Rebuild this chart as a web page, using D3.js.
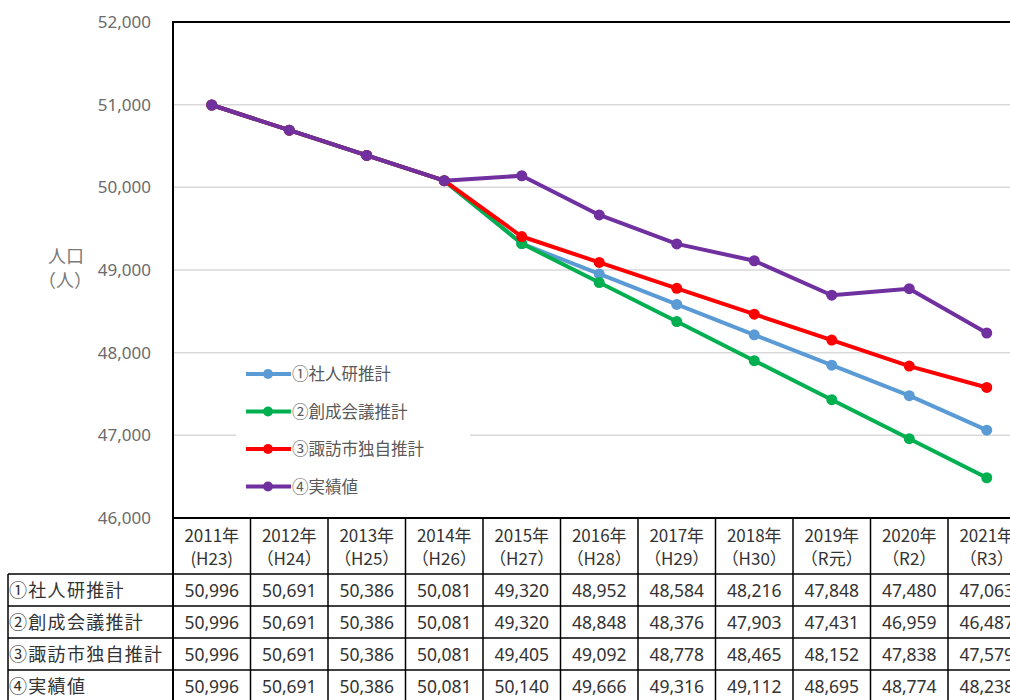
<!DOCTYPE html>
<html>
<head>
<meta charset="utf-8">
<script src="https://cdn.jsdelivr.net/npm/d3@7"></script>
<style>
  body { margin: 0; background: #fff; }
  svg { font-family: "Noto Sans CJK JP", "Noto Sans", sans-serif; }
</style>
</head>
<body>
<svg id="chart" width="1010" height="700"></svg>
<script>
// data
var years = ["2011年", "2012年", "2013年", "2014年", "2015年", "2016年", "2017年", "2018年", "2019年", "2020年", "2021年"];
var eras = ["(H23)", "（H24）", "（H25）", "（H26）", "（H27）", "（H28）", "（H29）", "（H30）", "（R元）", "（R2）", "（R3）"];
var seriesNames = ["①社人研推計", "②創成会議推計", "③諏訪市独自推計", "④実績値"];
var shajinken = [50996, 50691, 50386, 50081, 49320, 48952, 48584, 48216, 47848, 47480, 47063];
var sousei = [50996, 50691, 50386, 50081, 49320, 48848, 48376, 47903, 47431, 46959, 46487];
var suwa = [50996, 50691, 50386, 50081, 49405, 49092, 48778, 48465, 48152, 47838, 47579];
var jisseki = [50996, 50691, 50386, 50081, 50140, 49666, 49316, 49112, 48695, 48774, 48238];
var yTicks = [46000, 47000, 48000, 49000, 50000, 51000, 52000];
var colors = ["#5b9bd5", "#00b050", "#ff0000", "#7030a0"];

var allSeries = [shajinken, sousei, suwa, jisseki];

var plotLeft = 173, plotTop = 22, plotBottom = 518, colW = 77.5;
var tableLeft = 8;
var headerBottom = 574, rowH = 32;

var svg = d3.select("#chart");

var x = d3.scaleBand().domain(years).range([plotLeft, plotLeft + colW * years.length]);
var y = d3.scaleLinear().domain([46000, 52000]).range([plotBottom, plotTop]);

// gridlines
svg.append("g").selectAll("line")
  .data(yTicks.slice(1, -1))
  .enter().append("line")
    .attr("x1", plotLeft).attr("x2", 1010)
    .attr("y1", function(d) { return y(d); })
    .attr("y2", function(d) { return y(d); })
    .attr("stroke", "#d9d9d9").attr("stroke-width", 1.5);

// y axis labels
var yAxis = d3.axisLeft(y).tickValues(yTicks).tickSize(0).tickPadding(22)
  .tickFormat(d3.format(","));
var ya = svg.append("g").attr("transform", "translate(" + plotLeft + ",0)").call(yAxis);
ya.select(".domain").remove();
ya.selectAll("text").attr("fill", "#6b6b6b").style("font-size", "17px")
  .style("font-family", "'Noto Sans', sans-serif");

// axis title (two lines)
var yTitle = svg.append("text").attr("text-anchor", "middle")
  .attr("fill", "#7a7a7a").style("font-size", "18px");
yTitle.append("tspan").attr("x", 66).attr("y", 263).text("人口");
yTitle.append("tspan").attr("x", 65).attr("dy", 24).text("（人）");

// lines
var line = d3.line()
  .x(function(d, i) { return x(years[i]) + x.bandwidth() / 2; })
  .y(function(d) { return y(d); });

allSeries.forEach(function(s, k) {
  var g = svg.append("g");
  g.append("path").datum(s)
    .attr("d", line).attr("fill", "none")
    .attr("stroke", colors[k]).attr("stroke-width", 4).attr("stroke-linejoin", "round");
  g.selectAll("circle").data(s).enter().append("circle")
    .attr("cx", function(d, i) { return x(years[i]) + x.bandwidth() / 2; })
    .attr("cy", function(d) { return y(d); })
    .attr("r", 5.5).attr("fill", colors[k]);
});

// legend
var legend = svg.append("g");
legend.append("rect").attr("x", 236).attr("y", 356).attr("width", 234).attr("height", 148).attr("fill", "#fff");
seriesNames.forEach(function(name, k) {
  var ly = 374 + k * 37.5;
  legend.append("line").attr("x1", 246).attr("x2", 291).attr("y1", ly).attr("y2", ly)
    .attr("stroke", colors[k]).attr("stroke-width", 4);
  legend.append("circle").attr("cx", 268).attr("cy", ly).attr("r", 5).attr("fill", colors[k]);
  legend.append("text").attr("x", 292).attr("y", ly + 6)
    .attr("fill", "#595959").style("font-size", "16.5px").text(name);
});

// plot border (top and left)
svg.append("path")
  .attr("d", "M" + plotLeft + "," + plotBottom + "V" + plotTop + "H1010")
  .attr("fill", "none").attr("stroke", "#000").attr("stroke-width", 2);

// data table
var table = svg.append("g");
var tableRight = plotLeft + colW * years.length;
var lastRow = headerBottom + rowH * seriesNames.length;

// horizontal lines
table.append("line").attr("x1", plotLeft).attr("x2", tableRight)
  .attr("y1", plotBottom).attr("y2", plotBottom).attr("stroke", "#000").attr("stroke-width", 2);
d3.range(seriesNames.length + 1).forEach(function(r) {
  var yy = headerBottom + r * rowH;
  table.append("line").attr("x1", tableLeft).attr("x2", tableRight)
    .attr("y1", yy).attr("y2", yy).attr("stroke", "#000").attr("stroke-width", 1.5);
});
// vertical lines
table.append("line").attr("x1", tableLeft).attr("x2", tableLeft)
  .attr("y1", headerBottom).attr("y2", lastRow).attr("stroke", "#000").attr("stroke-width", 1.5);
years.forEach(function(yr, i) {
  var xx = x(yr);
  table.append("line").attr("x1", xx).attr("x2", xx)
    .attr("y1", plotBottom).attr("y2", lastRow).attr("stroke", "#000").attr("stroke-width", i === 0 ? 2 : 1.5);
});
table.append("line").attr("x1", tableRight).attr("x2", tableRight)
  .attr("y1", plotBottom).attr("y2", lastRow).attr("stroke", "#000").attr("stroke-width", 1.5);

// header text
years.forEach(function(yr, i) {
  var cx = x(yr) + x.bandwidth() / 2;
  table.append("text").attr("x", cx).attr("y", 542).attr("text-anchor", "middle")
    .style("font-size", "17px").attr("fill", "#333").text(yr);
  table.append("text").attr("x", cx).attr("y", 565).attr("text-anchor", "middle")
    .style("font-size", "17px").attr("fill", "#333").text(eras[i]);
});

// rows
seriesNames.forEach(function(name, k) {
  var ry = headerBottom + k * rowH + rowH / 2 + 7;
  table.append("text").attr("x", tableLeft + 1).attr("y", ry)
    .style("font-size", "18px").style("letter-spacing", "1.3px").attr("fill", "#333").text(name);
  allSeries[k].forEach(function(v, i) {
    table.append("text").attr("x", x(years[i]) + x.bandwidth() / 2).attr("y", ry)
      .attr("text-anchor", "middle").style("font-size", "17.5px").attr("fill", "#333")
      .style("font-family", "'Noto Sans', sans-serif")
      .text(d3.format(",")(v));
  });
});
</script>
</body>
</html>
